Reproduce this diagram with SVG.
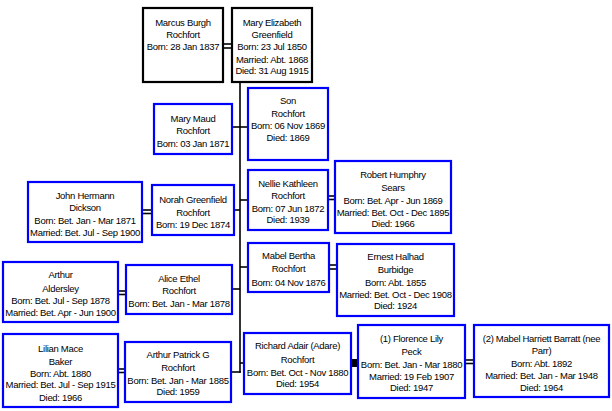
<svg xmlns="http://www.w3.org/2000/svg" width="612" height="411" viewBox="0 0 612 411">
<style>
.b{fill:#fff;stroke:#0000ff;stroke-width:2.2}
.k{fill:#fff;stroke:#000;stroke-width:2.2}
text{font-family:"Liberation Sans",Arial,sans-serif;font-size:9.5px;fill:#000;text-anchor:middle;letter-spacing:-0.3px}
.c line{stroke:#000;stroke-width:1.6}
</style>
<rect width="612" height="411" fill="#fff"/>
<g id="connectors" class="c">
<line x1="240" y1="82" x2="240" y2="372.8"/>
<line x1="233" y1="127" x2="247" y2="127"/>
<line x1="240" y1="200" x2="247" y2="200"/>
<line x1="235" y1="210" x2="240" y2="210"/>
<line x1="240" y1="267" x2="247" y2="267"/>
<line x1="233" y1="289" x2="240" y2="289"/>
<line x1="240" y1="363" x2="243" y2="363"/>
<line x1="232" y1="372" x2="240.8" y2="372"/>
<line x1="224" y1="44" x2="231" y2="44"/>
<line x1="224" y1="48" x2="231" y2="48"/>
<line x1="143" y1="210" x2="151" y2="210"/>
<line x1="143" y1="213.5" x2="151" y2="213.5"/>
<line x1="329" y1="196" x2="334" y2="196"/>
<line x1="329" y1="199.5" x2="334" y2="199.5"/>
<line x1="330" y1="265" x2="336" y2="265"/>
<line x1="330" y1="269" x2="336" y2="269"/>
<line x1="119" y1="291" x2="125" y2="291"/>
<line x1="119" y1="294.5" x2="125" y2="294.5"/>
<line x1="119" y1="369" x2="124" y2="369"/>
<line x1="119" y1="372.5" x2="124" y2="372.5"/>
<line x1="466" y1="360" x2="473" y2="360"/>
<line x1="466" y1="363.5" x2="473" y2="363.5"/>
<rect x="352" y="359" width="5" height="8" fill="#000"/>
</g>
<g id="marcus"><rect class="k" x="143" y="8" width="80" height="74"/>
<text x="183" y="26">Marcus Burgh</text><text x="183" y="38">Rochfort</text><text x="183" y="50">Born: 28 Jan 1837</text></g>
<g id="mary-elizabeth"><rect class="k" x="232" y="8" width="80" height="74"/>
<text x="272" y="26">Mary Elizabeth</text><text x="272" y="38">Greenfield</text><text x="272" y="50">Born: 23 Jul 1850</text><text x="272" y="62.5">Married: Abt. 1868</text><text x="272" y="74.4">Died: 31 Aug 1915</text></g>
<g id="son"><rect class="b" x="248" y="88" width="80" height="72"/>
<text x="288" y="103.5">Son</text><text x="288" y="116.5">Rochfort</text><text x="288" y="129">Born: 06 Nov 1869</text><text x="288" y="141">Died: 1869</text></g>
<g id="mary-maud"><rect class="b" x="154" y="104" width="78" height="50"/>
<text x="193" y="121.7">Mary Maud</text><text x="193" y="134.4">Rochfort</text><text x="193" y="146.7">Born: 03 Jan 1871</text></g>
<g id="john"><rect class="b" x="28" y="182" width="114" height="60"/>
<text x="85" y="198.5">John Hermann</text><text x="85" y="211">Dickson</text><text x="85" y="223.5">Born: Bet. Jan - Mar 1871</text><text x="85" y="235.5">Married: Bet. Jul - Sep 1900</text></g>
<g id="norah"><rect class="b" x="152" y="185" width="82" height="50"/>
<text x="193" y="202.7">Norah Greenfield</text><text x="193" y="215.7">Rochfort</text><text x="193" y="227.7">Born: 19 Dec 1874</text></g>
<g id="nellie"><rect class="b" x="248" y="170" width="80" height="60"/>
<text x="288" y="186.7">Nellie Kathleen</text><text x="288" y="199">Rochfort</text><text x="288" y="212">Born: 07 Jun 1872</text><text x="288" y="223.4">Died: 1939</text></g>
<g id="robert"><rect class="b" x="335" y="161" width="116" height="72"/>
<text x="393" y="177.7">Robert Humphry</text><text x="393" y="191">Sears</text><text x="393" y="204">Born: Bet. Apr - Jun 1869</text><text x="393" y="215.7">Married: Bet. Oct - Dec 1895</text><text x="393" y="226.7">Died: 1966</text></g>
<g id="arthur-aldersley"><rect class="b" x="3" y="262" width="115" height="60"/>
<text x="60.5" y="278.4">Arthur</text><text x="60.5" y="291.7">Aldersley</text><text x="60.5" y="304">Born: Bet. Jul - Sep 1878</text><text x="60.5" y="316">Married: Bet. Apr - Jun 1900</text></g>
<g id="alice"><rect class="b" x="126" y="265" width="106" height="49"/>
<text x="179" y="281.7">Alice Ethel</text><text x="179" y="294.4">Rochfort</text><text x="179" y="306.7">Born: Bet. Jan - Mar 1878</text></g>
<g id="mabel-bertha"><rect class="b" x="248" y="243" width="81" height="49"/>
<text x="288.5" y="259.4">Mabel Bertha</text><text x="288.5" y="272.4">Rochfort</text><text x="288.5" y="285.7">Born: 04 Nov 1876</text></g>
<g id="ernest"><rect class="b" x="337" y="244" width="117" height="72"/>
<text x="395.5" y="260">Ernest Halhad</text><text x="395.5" y="273.4">Burbidge</text><text x="395.5" y="285.7">Born: Abt. 1855</text><text x="395.5" y="297.7">Married: Bet. Oct - Dec 1908</text><text x="395.5" y="309.4">Died: 1924</text></g>
<g id="lilian"><rect class="b" x="3" y="334" width="115" height="73"/>
<text x="60.5" y="351.7">Lilian Mace</text><text x="60.5" y="365">Baker</text><text x="60.5" y="376.7">Born: Abt. 1880</text><text x="60.5" y="388.4">Married: Bet. Jul - Sep 1915</text><text x="60.5" y="400.7">Died: 1966</text></g>
<g id="arthur-patrick"><rect class="b" x="125" y="342" width="106" height="60"/>
<text x="178" y="358.4">Arthur Patrick G</text><text x="178" y="371">Rochfort</text><text x="178" y="384">Born: Bet. Jan - Mar 1885</text><text x="178" y="395">Died: 1959</text></g>
<g id="richard"><rect class="b" x="244" y="333" width="107" height="61"/>
<text x="297.5" y="349.4">Richard Adair (Adare)</text><text x="297.5" y="363.4">Rochfort</text><text x="297.5" y="375.7">Born: Bet. Oct - Nov 1880</text><text x="297.5" y="387.4">Died: 1954</text></g>
<g id="florence"><rect class="b" x="358" y="325" width="107" height="73"/>
<text x="411.5" y="342.4">(1) Florence Lily</text><text x="411.5" y="355">Peck</text><text x="411.5" y="367.7">Born: Bet. Jan - Mar 1880</text><text x="411.5" y="379.7">Married: 19 Feb 1907</text><text x="411.5" y="391">Died: 1947</text></g>
<g id="mabel-harriett"><rect class="b" x="474" y="325" width="135" height="72"/>
<text x="541.5" y="342.4">(2) Mabel Harriett Barratt (nee</text><text x="541.5" y="354">Parr)</text><text x="541.5" y="366.7">Born: Abt. 1892</text><text x="541.5" y="379.4">Married: Bet. Jan - Mar 1948</text><text x="541.5" y="390.7">Died: 1964</text></g>
</svg>
